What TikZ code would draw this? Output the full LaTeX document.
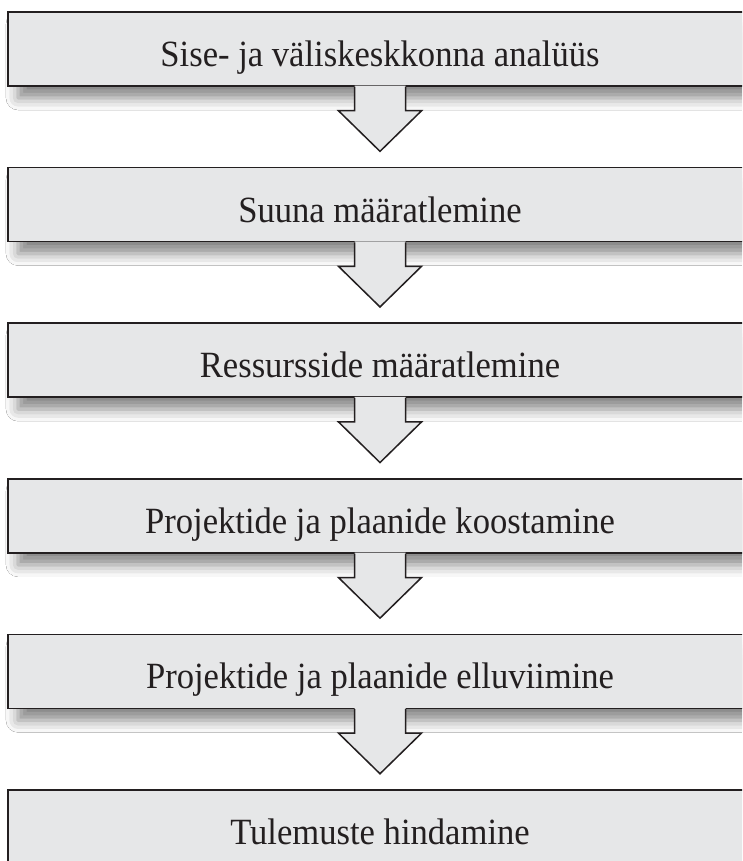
\documentclass[tikz,border=0pt]{standalone}
\usepackage{fontspec}
\setmainfont{Liberation Serif}[FakeStretch=0.935]
\usetikzlibrary{calc,shadows.blur}
\definecolor{boxfill}{HTML}{E6E7E8}
\definecolor{ink}{HTML}{231F20}
\tikzset{
  stagebase/.style={draw=ink, line width=1.5pt, fill=boxfill,
    minimum width=744pt, minimum height=74pt, inner sep=0pt,
    text=ink, font=\fontsize{37}{40}\selectfont,
    text height=38.5pt, text depth=3.7pt},
  stage/.style={stagebase,
    blur shadow={shadow xshift=10pt, shadow yshift=-12pt,
      shadow blur radius=12pt, shadow opacity=48}},
  arrowline/.style={draw=ink, line width=1.5pt, line join=miter}
}
% hollow block arrow hanging from one stage down towards the next
\newcommand\stagearrow[2]{%
  \fill[boxfill] ($(#1.south)+(-25.5,-1)$) -- ++(0,25) -- ++(-16,0)
    -- ($(#2.north)+(0,-15.5)$) -- ($(#1.south)+(41.5,24)$) -- ++(-16,0)
    -- ($(#1.south)+(25.5,-1)$) -- cycle;
  \draw[arrowline] ($(#1.south)+(-25.5,0)$) -- ++(0,24) -- ++(-16,0)
    -- ($(#2.north)+(0,-15.5)$) -- ($(#1.south)+(41.5,24)$) -- ++(-16,0)
    -- ($(#1.south)+(25.5,0)$);
}
\begin{document}
\begin{tikzpicture}[x=1pt, y=-1pt]
  \useasboundingbox (0,0) rectangle (742,861);
  \clip (0,0) rectangle (742,861);
  \fill[white] (0,0) rectangle (742,861);

  \node[stage] (s1) at (380,49.0) {Sise- ja väliskeskkonna analüüs};
  \node[stage] (s2) at (380,204.6) {Suuna määratlemine};
  \node[stage] (s3) at (380,360.2) {Ressursside määratlemine};
  \node[stage] (s4) at (380,515.8) {Projektide ja plaanide koostamine};
  \node[stage] (s5) at (380,671.4) {Projektide ja plaanide elluviimine};
  \node[stagebase] (s6) at (380,827.0) {Tulemuste hindamine};

  \stagearrow{s1}{s2}
  \stagearrow{s2}{s3}
  \stagearrow{s3}{s4}
  \stagearrow{s4}{s5}
  \stagearrow{s5}{s6}
\end{tikzpicture}
\end{document}
